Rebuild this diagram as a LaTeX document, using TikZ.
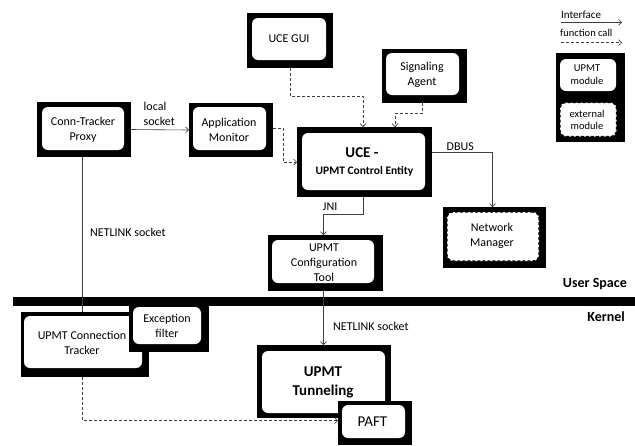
\documentclass[tikz,border=0pt]{standalone}
\usepackage{fontspec}
\setmainfont{Carlito}
\usetikzlibrary{arrows.meta,fit,calc}
\begin{document}
\begin{tikzpicture}[x=1pt,y=-1pt,
  blk/.style={fill=black,draw=none,inner sep=0pt,outer sep=0pt},
  wht/.style={fill=white,draw=none,rounded corners=6pt,inner sep=0pt,outer sep=0pt},
  ext/.style={fill=white,draw=black,line width=1.3pt,dash pattern=on 3pt off 2pt,rounded corners=6pt,inner sep=0pt,outer sep=0pt},
  txt/.style={font=\fontsize{12}{15}\selectfont,inner sep=0pt,align=center},
  small/.style={font=\fontsize{10.5}{12.7}\selectfont,inner sep=0pt,align=center},
  big/.style={font=\fontsize{15}{18.4}\selectfont\bfseries,inner sep=0pt,align=center},
  conn/.style={draw=black!75,line width=0.6pt},
  arr/.style={-{Straight Barb[length=3pt,width=6pt]}},
  dsh/.style={dash pattern=on 3pt off 2pt}
]
\useasboundingbox (0,0) rectangle (635,445);

% user/kernel bar
\fill (13,297) rectangle (635,306);
\node[font=\fontsize{14}{16}\selectfont\bfseries,anchor=east,inner sep=0pt] (us) at (627,284) {User Space};
\node[font=\fontsize{14}{16}\selectfont\bfseries,anchor=east,inner sep=0pt] (kn) at (625,317) {Kernel};

% UCE GUI
\node[blk,fit={(247,13) (333,68)}] (gui) {};
\node[wht,fit={(252,18) (326,60)}] (guiw) {};
\node[txt] (guit) at (289,39) {UCE GUI};

% Conn-Tracker Proxy
\node[blk,fit={(37,102) (131,157)}] (ctp) {};
\node[wht,fit={(42,107) (124,150)}] (ctpw) {};
\node[txt] (ctpt) at (83,129.5) {Conn-Tracker\\Proxy};

% Application Monitor
\node[blk,fit={(189,103) (273,157)}] (am) {};
\node[wht,fit={(193,107) (266,150)}] (amw) {};
\node[txt] (amt) at (229,129.5) {Application\\Monitor};

% Signaling Agent
\node[blk,fit={(382,49) (467,103)}] (sig) {};
\node[wht,fit={(386,53) (459,95)}] (sigw) {};
\node[txt] (sigt) at (422,75.3) {Signaling\\Agent};

% UCE
\node[blk,fit={(297,127) (432,197)}] (uce) {};
\node[wht,fit={(302,133) (425,190)}] (ucew) {};
\node[big] (ucet1) at (362,153) {UCE -};
\node[txt,font=\fontsize{11.5}{14}\selectfont\bfseries] (ucet2) at (364.5,171.5) {UPMT Control Entity};

% Configuration Tool
\node[blk,fit={(268,235) (383,291)}] (cfg) {};
\node[wht,fit={(272,240) (374,283)}] (cfgw) {};
\node[txt] (cfgt) at (324,263) {UPMT\\Configuration\\Tool};

% Network Manager
\node[blk,fit={(443,207) (546,268)}] (nm) {};
\node[ext,fit={(447,212) (539,261)}] (nmw) {};
\node[txt] (nmt) at (492,236) {Network\\Manager};

% UPMT Connection Tracker
\node[blk,fit={(21,312) (149,377)}] (ct) {};
\node[wht,fit={(24,316) (142,368)}] (ctw) {};
\node[txt] (ctt) at (82,342.5) {UPMT Connection\\Tracker};

% Exception filter
\node[blk,fit={(129,306) (209,352)}] (ex) {};
\node[wht,fit={(133,307) (201,344)}] (exw) {};
\node[txt] (ext) at (167,325.8) {Exception\\filter};

% UPMT Tunneling
\node[blk,fit={(257,345) (391,418)}] (tun) {};
\node[wht,fit={(262,351) (385,413)}] (tunw) {};
\node[big] (tunt) at (323,382.5) {UPMT\\Tunneling};

% PAFT
\node[blk,fit={(338,401) (412,445)}] (paft) {};
\node[wht,fit={(342,405) (405,438)}] (paftw) {};
\node[txt,font=\fontsize{15}{18}\selectfont] (paftt) at (372.5,421.5) {PAFT};

% Legend
\node[small,anchor=west,font=\fontsize{11}{13}\selectfont] (lgi) at (561,14.5) {Interface};
\coordinate (la1) at (560.5,22.3);
\coordinate (la2) at (622,22.3);
\draw[conn,arr] (la1) -- (la2);
\node[small,anchor=west] (lgf) at (560,33.3) {function call};
\coordinate (lb1) at (560.5,42.7);
\coordinate (lb2) at (622,42.7);
\draw[conn,arr,dsh] (lb1) -- (lb2);
\node[blk,fit={(556,53) (625,142)}] (leg) {};
\node[wht,fit={(560,59) (616,91)}] (legu) {};
\node[small] (legut) at (587,74.7) {UPMT\\module};
\node[ext,fit={(560,102.5) (616.5,136.5)}] (lege) {};
\node[small] (leget) at (587,120) {external\\module};

% connectors
\draw[conn,arr,dsh] (gui.south) -- ++(0,28) -| ([xshift=-1.5pt]uce.north);
\draw[conn,arr,dsh] ([xshift=-2pt]sig.south) -- ++(0,10.5) -| ([xshift=30.5pt]uce.north);
\draw[conn,arr,dsh] ([yshift=2pt]am.east) -- ++(10.5,0) |- (uce.west);
\draw[conn,arr] (ctp.east) -- (am.west);
\node[txt,anchor=west,align=left] (lsock) at (143.5,113.7) {local\\socket};
\draw[conn,arr] ([yshift=10pt]uce.east) -| ([xshift=-2pt]nm.north);
\node[txt,anchor=west] (dbus) at (446.5,146.5) {DBUS};
\draw[conn,arr] ([xshift=-1.5pt]uce.south) -- ++(0,17) -| ([xshift=-2pt]cfg.north);
\node[txt,anchor=west] (jni) at (322.5,206.5) {JNI};
\draw[conn,arr] ([xshift=-2pt]cfg.south) -- ([xshift=-2pt]cfg.south |- tun.north);
\node[txt,anchor=west] (nl2) at (333,326) {NETLINK socket};
\draw[conn] ([xshift=-1.3pt]ctp.south) -- ([xshift=-1.3pt]ctp.south |- ct.north);
\node[txt,anchor=west] (nl1) at (90,232.3) {NETLINK socket};
\draw[conn,arr,dsh] ([xshift=-2.3pt]ct.south) |- ([yshift=2.3pt]paft.west);
\end{tikzpicture}
\end{document}
